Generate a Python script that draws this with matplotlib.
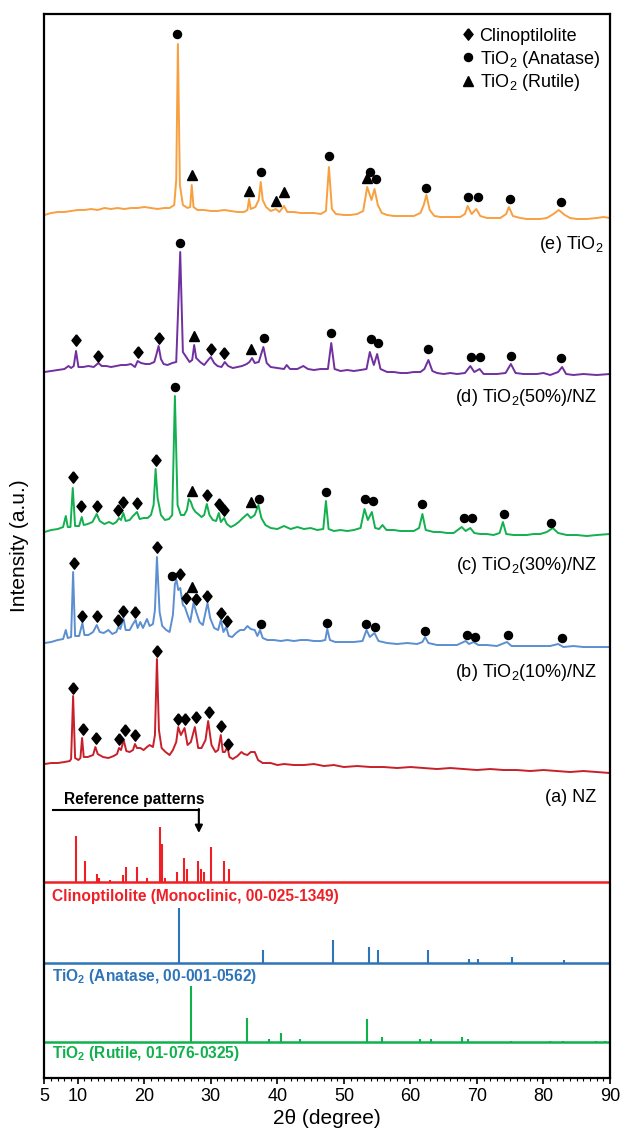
import numpy as np
import matplotlib.pyplot as plt

plt.rcParams['font.family'] = ['Liberation Sans', 'DejaVu Sans']
plt.rcParams['mathtext.fontset'] = 'custom'
plt.rcParams['mathtext.rm'] = 'Liberation Sans'
plt.rcParams['mathtext.it'] = 'Liberation Sans:italic'
plt.rcParams['mathtext.bf'] = 'Liberation Sans:bold'

# measured patterns: (2theta [deg], intensity [a.u.] above own baseline)
nz = [(5.0, 0), (6.0, 1), (7.0, 1), (8.0, 2), (8.8, 3), (9.0, 5), (9.3, 68), (9.6, 6),
      (10.1, 4), (10.4, 6), (10.65, 26), (10.9, 7), (11.5, 7), (12.3, 9), (12.65, 17),
      (13.0, 10), (13.8, 7), (14.6, 6), (15.4, 8), (15.9, 10), (16.2, 16), (16.5, 14),
      (16.9, 24), (17.3, 13), (17.8, 12), (18.3, 14), (18.6, 20), (18.9, 16), (19.4, 16),
      (19.9, 14), (20.4, 17), (20.8, 19), (21.3, 17), (21.6, 29), (21.9, 105), (22.2, 34),
      (22.6, 16), (23.2, 12), (23.8, 9), (24.3, 14), (24.8, 22), (25.1, 37), (25.5, 29),
      (26.05, 36), (26.5, 19), (27.0, 22), (27.6, 37), (28.1, 16), (28.6, 16), (29.2, 24),
      (29.6, 43), (30.1, 19), (30.7, 12), (31.1, 14), (31.5, 29), (31.8, 12), (32.1, 12),
      (32.5, 17), (32.8, 7), (33.3, 5), (34.0, 8), (34.6, 12), (35.0, 10), (35.5, 9),
      (36.0, 12), (36.6, 12), (37.1, 4), (37.8, 1), (39, 1), (40, -1), (41, 0), (42.5, -1),
      (44, -1), (45.5, 0), (47, -2), (48.5, -1), (50, -3), (52, -2), (54, -3), (56, -3),
      (58, -4), (60, -3), (62, -4), (64, -5), (66, -4), (68, -5), (70, -6), (72, -5),
      (74, -6), (76, -6), (78, -7), (80, -6), (82, -7), (84, -8), (86, -7), (88, -8), (90, -9)]

nz_10 = [(5.0, 0), (6.0, 1), (7.0, 3), (7.8, 4), (8.2, 13), (8.5, 5), (9.0, 6), (9.3, 71),
         (9.6, 7), (10.2, 7), (10.7, 20), (11.0, 8), (11.6, 8), (12.3, 11), (12.85, 18),
         (13.3, 11), (13.9, 10), (14.6, 13), (15.2, 9), (15.8, 11), (16.1, 16), (16.4, 14),
         (16.85, 25), (17.2, 13), (17.8, 13), (18.3, 19), (18.7, 23), (19.0, 15), (19.4, 21),
         (19.8, 15), (20.4, 24), (20.8, 17), (21.3, 19), (21.6, 33), (21.9, 86), (22.3, 31),
         (22.7, 17), (23.3, 13), (23.8, 11), (24.3, 28), (24.6, 59), (24.85, 63), (25.1, 53),
         (25.4, 55), (25.8, 38), (26.1, 36), (26.5, 28), (26.9, 21), (27.4, 40), (27.8, 31),
         (28.3, 21), (28.8, 18), (29.5, 40), (29.9, 25), (30.5, 15), (31.1, 13), (31.5, 23),
         (31.9, 11), (32.3, 16), (32.7, 7), (33.2, 6), (33.8, 10), (34.4, 13), (35.0, 13),
         (35.5, 17), (36.0, 14), (36.6, 13), (37.0, 7), (37.4, 13), (37.8, 5), (38.5, 3),
         (39.5, 3), (40.5, 2), (41.5, 3), (42.5, 2), (43.5, 3), (44.5, 3), (45.5, 2),
         (46.5, 2), (47.2, 3), (47.5, 14), (47.9, 3), (48.7, 1), (50, 1), (51.5, 1),
         (52.8, 2), (53.4, 13), (53.9, 6), (54.6, 10), (55.2, 2), (56.5, 0), (58, -1),
         (59.5, 0), (61.0, -1), (61.8, 1), (62.2, 6), (62.7, 0), (64, -2), (65.5, -2),
         (67, -2), (68.3, 2), (68.8, -1), (69.5, 1), (70.2, -2), (71.5, -2), (73, -3),
         (74.5, 1), (75.2, -3), (76.5, -3), (78, -3), (79.5, -3), (81, -3), (82.2, -1),
         (83, -4), (84.5, -3), (86, -4), (88, -4), (90, -4)]

nz_30 = [(5.0, 0), (6.0, 2), (7.0, 3), (7.8, 5), (8.2, 16), (8.5, 5), (8.9, 5), (9.25, 44),
         (9.6, 6), (10.2, 6), (10.6, 15), (10.9, 7), (11.5, 8), (12.2, 10), (12.85, 18),
         (13.3, 11), (14.0, 8), (14.7, 10), (15.3, 8), (15.8, 10), (16.2, 14), (16.5, 12),
         (16.85, 19), (17.2, 11), (17.8, 12), (18.3, 16), (18.9, 20), (19.3, 13), (19.9, 14),
         (20.5, 14), (21.0, 17), (21.4, 27), (21.7, 63), (22.0, 34), (22.5, 17), (23.1, 12),
         (23.7, 13), (24.2, 17), (24.6, 136), (25.0, 27), (25.5, 17), (26.0, 17), (26.4, 22),
         (26.7, 33), (27.0, 30), (27.3, 24), (27.7, 20), (28.1, 18), (28.6, 15), (29.0, 17),
         (29.4, 28), (29.8, 17), (30.3, 12), (30.8, 11), (31.2, 19), (31.5, 10), (32.0, 14),
         (32.4, 8), (33.0, 5), (33.6, 7), (34.2, 10), (34.8, 14), (35.5, 18), (36.0, 14),
         (36.6, 17), (37.15, 27), (37.6, 14), (38.2, 7), (39.0, 4), (40.0, 3), (41.0, 6),
         (42.0, 3), (43.0, 5), (44.0, 3), (45.0, 4), (46.0, 2), (46.9, 3), (47.3, 31),
         (47.7, 3), (48.5, 1), (49.5, 2), (50.5, 1), (51.5, 2), (52.5, 4), (53.1, 23),
         (53.6, 12), (54.2, 20), (54.7, 4), (55.3, 3), (55.8, 7), (56.4, 2), (57.5, 2),
         (58.5, 1), (59.5, 1), (60.5, 1), (61.3, 4), (61.8, 18), (62.3, 2), (63.5, 0),
         (64.5, 0), (65.5, -1), (66.5, -1), (67.7, 5), (68.3, 1), (69.0, 4), (69.6, -1),
         (70.5, -2), (71.5, -2), (72.5, -3), (73.4, -1), (73.9, 10), (74.4, -2), (75.5, -3),
         (76.5, -3), (77.5, -3), (78.5, -2), (79.5, -2), (80.5, 0), (81.4, 4), (82.2, -1),
         (83.5, -3), (85, -3), (86.5, -4), (88, -3), (90, -2)]

nz_50 = [(5.0, 0), (6.0, 1), (7.0, 2), (8.0, 3), (8.6, 6), (9.0, 4), (9.4, 6), (9.74, 21),
         (10.1, 5), (10.8, 5), (11.6, 6), (12.4, 5), (13.1, 9), (13.6, 6), (14.3, 6),
         (15.0, 5), (15.8, 6), (16.5, 7), (17.3, 7), (18.0, 8), (18.6, 5), (19.0, 11),
         (19.5, 9), (20.2, 8), (20.8, 8), (21.5, 10), (21.8, 17), (22.15, 26), (22.5, 13),
         (22.9, 8), (23.5, 7), (24.2, 9), (24.8, 10), (25.4, 120), (25.8, 20), (26.2, 16),
         (26.8, 10), (27.2, 12), (27.5, 27), (27.8, 14), (28.4, 10), (29.0, 7), (29.6, 12),
         (30.0, 15), (30.5, 9), (31.0, 6), (31.6, 5), (32.1, 10), (32.6, 6), (33.3, 4),
         (34.0, 5), (34.7, 6), (35.4, 8), (35.8, 10), (36.2, 14), (36.6, 9), (37.2, 10),
         (37.9, 25), (38.4, 9), (39.0, 5), (40.0, 4), (41.0, 3), (41.4, 7), (41.9, 3),
         (43.0, 3), (43.9, 6), (44.6, 3), (45.5, 2), (46.5, 3), (47.6, 3), (48.1, 29),
         (48.6, 3), (49.5, 1), (50.5, 2), (51.5, 1), (52.5, 2), (53.4, 3), (53.9, 20),
         (54.5, 7), (55.0, 18), (55.5, 3), (56.5, 0), (57.5, 0), (58.5, -1), (59.5, -1),
         (60.5, 0), (61.5, 0), (62.1, 3), (62.7, 12), (63.3, 1), (64.0, -1), (65, -2),
         (66, -1), (67, -2), (68.2, -1), (69.0, 6), (69.6, 0), (70.4, 3), (71.0, -2),
         (72, -2), (73, -2), (74.3, -1), (75.1, 8), (75.8, -1), (77, -2), (78, -2), (79, -2),
         (80, -1), (81, -3), (82.2, 0), (82.8, 5), (83.4, -2), (84.5, -3), (86, -2),
         (88, -3), (90, -2)]

tio2 = [(5.0, 0), (6.0, 2), (7.0, 3), (8.0, 3), (9.0, 4), (10.0, 5), (11.0, 5), (12.0, 6),
        (13.0, 5), (14.0, 7), (15.0, 6), (16.0, 7), (17.0, 6), (18.0, 7), (19.0, 7),
        (20.0, 8), (21.0, 7), (22.0, 6), (23.0, 7), (23.8, 7), (24.5, 10), (24.8, 35),
        (25.05, 171), (25.35, 30), (25.8, 10), (26.5, 7), (26.9, 8), (27.13, 30), (27.4, 8),
        (28.0, 5), (29.0, 5), (30.0, 4), (31.0, 4), (32.0, 5), (33.0, 4), (34.0, 3),
        (35.0, 3), (35.5, 5), (35.75, 16), (36.0, 6), (36.7, 8), (37.2, 15), (37.5, 33),
        (37.8, 15), (38.3, 8), (39.0, 4), (39.77, 6), (40.3, 3), (41.0, 9), (41.5, 3),
        (42.5, 3), (43.5, 2), (44.5, 2), (45.5, 2), (46.5, 1), (47.3, 4), (47.75, 48),
        (48.2, 6), (48.8, 1), (50, 0), (51, 0), (52, 1), (52.9, 4), (53.5, 28), (53.9, 20),
        (54.15, 15), (54.6, 26), (55.1, 10), (55.7, 2), (56.5, 0), (57.5, -1), (58.5, -1),
        (59.5, -1), (60.5, -1), (61.5, 2), (62.0, 10), (62.4, 20), (62.9, 5), (63.6, -1),
        (64.5, -2), (65.5, -2), (66.5, -2), (67.5, -2), (68.2, 1), (68.6, 9), (69.2, 1),
        (69.9, 6), (70.5, -1), (71.5, -3), (72.5, -3), (73.5, -3), (74.4, 1), (74.8, 8),
        (75.4, -1), (76.5, -3), (77.5, -4), (78.5, -4), (79.5, -4), (80.5, -3), (81.5, 1),
        (82.3, 5), (83.2, 0), (84, -3), (85, -4), (86.5, -4), (88, -3), (89, -2), (90, -3)]

# peak assignment markers: (2theta, intensity above own baseline, phase)
nz_mk = [(9.3, 76.3, 'C'), (10.75, 34.7, 'C'), (12.7, 25.7, 'C'), (16.2, 24.7, 'C'),
         (17.07, 34, 'C'), (18.6, 29, 'C'), (21.9, 113.3, 'C'), (25.05, 45, 'C'),
         (26.1, 45, 'C'), (27.8, 46.7, 'C'), (29.7, 51.7, 'C'), (31.6, 38, 'C'),
         (32.65, 19.7, 'C')]
nz_10_mk = [(9.5, 79.7, 'C'), (10.7, 27.3, 'C'), (12.85, 27, 'C'), (16.1, 23, 'C'),
            (16.85, 32, 'C'), (18.6, 31.3, 'C'), (21.9, 95.7, 'C'), (24.2, 67.3, 'A'),
            (25.3, 69, 'C'), (26.2, 45.3, 'C'), (27.1, 56.3, 'R'), (27.8, 43.7, 'C'),
            (29.5, 47, 'C'), (31.5, 29.7, 'C'), (32.4, 22.3, 'C'), (37.5, 18.7, 'A'),
            (47.5, 19.7, 'A'), (53.3, 19, 'A'), (54.7, 16.3, 'A'), (62.2, 12.3, 'A'),
            (68.5, 7.7, 'A'), (69.7, 5.7, 'A'), (74.7, 7.7, 'A'), (82.8, 4.7, 'A')]
nz_30_mk = [(9.33, 54.7, 'C'), (10.5, 26, 'C'), (12.85, 26, 'C'), (16.1, 22, 'C'),
            (16.85, 30.3, 'C'), (18.86, 28.7, 'C'), (21.7, 72, 'C'), (24.6, 144.7, 'A'),
            (27.13, 41.3, 'R'), (29.4, 37, 'C'), (31.3, 28, 'C'), (32.0, 22, 'C'),
            (36.0, 30.3, 'R'), (37.25, 32.7, 'A'), (47.3, 39.7, 'A'), (53.2, 32.7, 'A'),
            (54.4, 31, 'A'), (61.8, 27.7, 'A'), (68.0, 14.3, 'A'), (69.2, 14.3, 'A'),
            (74.0, 17.7, 'A'), (81.1, 8.7, 'A')]
nz_50_mk = [(9.74, 32, 'C'), (13.1, 16.3, 'C'), (19.0, 20.3, 'C'), (22.27, 33.7, 'C'),
            (25.4, 128.7, 'A'), (27.4, 36, 'R'), (30.0, 23, 'C'), (32.04, 18.7, 'C'),
            (36.0, 23, 'R'), (38.0, 33.7, 'A'), (48.1, 38.7, 'A'), (54.0, 32.7, 'A'),
            (55.2, 28.7, 'A'), (62.7, 22.7, 'A'), (69.1, 14.7, 'A'), (70.4, 14.7, 'A'),
            (75.1, 16, 'A'), (82.6, 13.7, 'A')]
tio2_mk = [(24.97, 180.7, 'A'), (27.13, 40, 'R'), (35.75, 24.3, 'R'), (37.5, 42.7, 'A'),
           (39.77, 14, 'R'), (41.07, 23.3, 'R'), (47.8, 59, 'A'), (53.4, 36.7, 'R'),
           (53.9, 43.3, 'A'), (54.8, 36.3, 'A'), (62.3, 27.3, 'A'), (68.7, 18.3, 'A'),
           (70.1, 18.3, 'A'), (74.9, 16.3, 'A'), (82.6, 13.3, 'A')]

# reference patterns (stick positions and heights)
clino_tt = [9.74, 11.09, 12.85, 13.25, 14.85, 16.85, 17.25, 18.96, 20.37, 22.37, 22.67,
            23.17, 24.97, 25.97, 26.38, 28.13, 28.53, 28.98, 29.98, 31.99, 32.79]
clino_h = [46, 21, 7.5, 4, 2, 6.5, 15, 15, 4, 54.7, 38, 4, 10, 24, 12.5, 21, 12.5, 10,
           35, 21, 12.5]
anatase_tt = [25.27, 37.84, 48.3, 53.8, 55.2, 62.6, 68.85, 70.1, 75.3, 83.1]
anatase_h = [54.3, 12.7, 22.3, 15.3, 12.7, 12.7, 3.7, 3.7, 5.7, 2.3]
rutile_tt = [27.05, 35.5, 38.7, 40.6, 43.4, 53.4, 55.8, 61.5, 63.1, 67.8, 68.6, 75.1,
             81.0, 83.0, 87.9, 89.2]
rutile_h = [56.3, 24.5, 3.5, 9.3, 3.5, 23, 5.7, 3.3, 3, 5.7, 3.7, 1.3, 1.3, 1.3, 1.3, 1.3]

labels = ['(a) NZ', r'(b) TiO$_2$(10%)/NZ', r'(c) TiO$_2$(30%)/NZ',
          r'(d) TiO$_2$(50%)/NZ', r'(e) TiO$_2$']
ref_labels = ['Clinoptilolite (Monoclinic, 00-025-1349)',
              r'TiO$_\mathbf{2}$ (Anatase, 00-001-0562)',
              r'TiO$_\mathbf{2}$ (Rutile, 01-076-0325)']
legend_labels = ['Clinoptilolite', r'TiO$_2$ (Anatase)', r'TiO$_2$ (Rutile)']

# ---- layout / styles
patterns = [nz, nz_10, nz_30, nz_50, tio2]
markers = [nz_mk, nz_10_mk, nz_30_mk, nz_50_mk, tio2_mk]
offsets = [314, 435, 546, 706, 863]
colors = ['#C8202A', '#5B8FD2', '#12B04E', '#7030A0', '#F8A040']
label_y = [276, 401, 508, 676, 829]
label_x = [88.0, 88.0, 88.0, 88.0, 89.0]
diamond = [(0, 1), (0.8, 0), (0, -1), (-0.8, 0), (0, 1)]
mk_style = {'C': (diamond, 8.2), 'A': ('o', 5.8), 'R': ('^', 6.8)}

ref_sets = [(clino_tt, clino_h), (anatase_tt, anatase_h), (rutile_tt, rutile_h)]
ref_offsets = [196.3, 115.3, 35.7]
ref_colors = ['#EE2026', '#2E74B8', '#10B04C']
ref_label_y = [177.5, 97.5, 20]

fig = plt.figure(figsize=(6.24, 11.38), dpi=100)
ax = fig.add_axes([0.0713, 0.0527, 0.9063, 0.935])

for data, mks, off, col in zip(patterns, markers, offsets, colors):
    xy = np.array(data, dtype=float)
    ax.plot(xy[:, 0], xy[:, 1] + off, color=col, lw=1.4, solid_joinstyle='round')
    for ph, (m, ms) in mk_style.items():
        pts = np.array([(t, v) for t, v, p in mks if p == ph], dtype=float)
        if len(pts):
            ax.plot(pts[:, 0], pts[:, 1] + off, ls='none', marker=m, ms=ms,
                    color='black', mec='black')

for lab, x, y in zip(labels, label_x, label_y):
    ax.text(x, y, lab, ha='right', va='baseline', fontsize=13)

for (tt, hh), off, col, lab, ly in zip(ref_sets, ref_offsets, ref_colors, ref_labels, ref_label_y):
    ax.axhline(off, color=col, lw=1.8)
    ax.vlines(tt, off, np.array(hh) + off, color=col, lw=1.5)
    ax.text(6.1, ly, lab, color=col, fontsize=11.2, fontweight='bold', va='baseline')

# reference bracket
ax.text(7.9, 274.5, 'Reference patterns', fontsize=11.2, fontweight='bold', va='baseline')
ax.plot([6.3, 28.2], [268, 268], color='black', lw=1.5)
ax.annotate('', xy=(28.2, 245), xytext=(28.2, 269),
            arrowprops=dict(arrowstyle='-|>', color='black', lw=1.5, mutation_scale=11,
                            shrinkA=0, shrinkB=0))

# legend
leg_y = [1043.7, 1020.7, 997.3]
for ph, lab, y in zip(['C', 'A', 'R'], legend_labels, leg_y):
    m, ms = mk_style[ph]
    ax.plot([68.7], [y], ls='none', marker=m, ms=ms, color='black')
    ax.text(70.4, y - 6.5, lab, fontsize=13, va='baseline')

ax.set_xlim(5, 90)
ax.set_ylim(0, 1064)
ax.set_xticks([5, 10, 20, 30, 40, 50, 60, 70, 80, 90])
ax.set_xticks(np.arange(5, 91, 1), minor=True)
ax.set_yticks([])
ax.tick_params(axis='x', which='major', direction='out', length=4, width=1.2,
               labelsize=13, pad=3)
ax.tick_params(axis='x', which='minor', direction='out', length=2.2, width=0.8)
for sp in ax.spines.values():
    sp.set_linewidth(1.6)

ax.set_xlabel('2θ (degree)', fontsize=15, labelpad=3)
ax.set_ylabel('Intensity (a.u.)', fontsize=15)
ax.yaxis.set_label_coords(-0.028, 0.5)

fig.savefig('out.png', dpi=100)
